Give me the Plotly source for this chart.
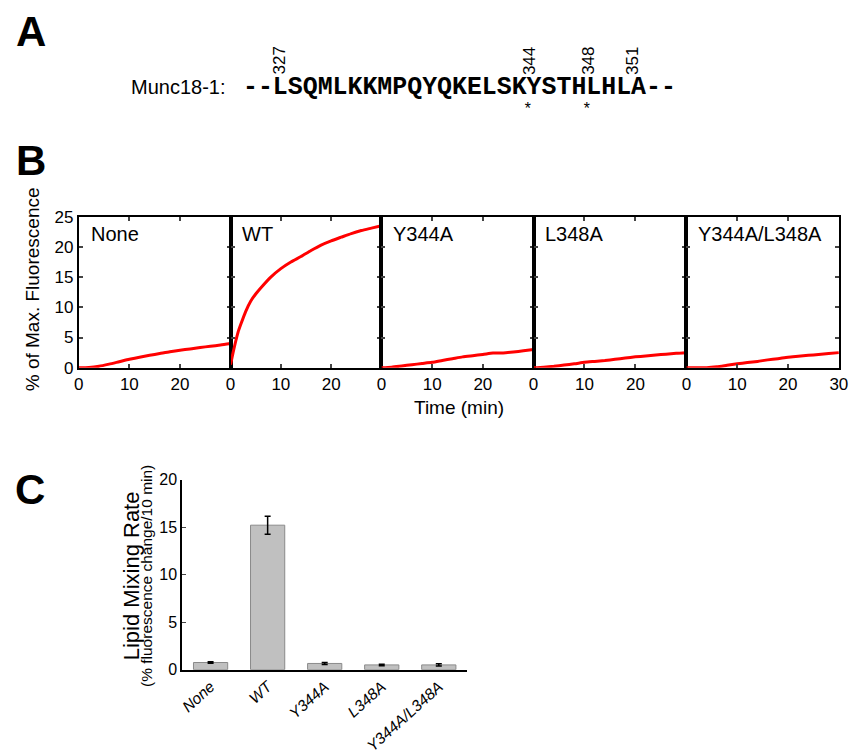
import plotly.graph_objects as go

W, H = 857, 755
FONT = "Liberation Sans, Arial, sans-serif"


def px(x):
    return x / W


def py(y):
    return 1 - y / H


# ---------------- data ----------------
# Panel A
sequence = "--LSQMLKKMPQYQKELSKYSTHLHLA--"
residue_labels = ["327", "344", "348", "351"]
residue_index = [2, 19, 23, 26]          # position of the labelled residue in `sequence`
star_index = [19, 23]

# Panel B: time course (% of max fluorescence)
panel_names = ["None", "WT", "Y344A", "L348A", "Y344A/L348A"]
t_none = [0, 2, 4, 6, 8, 10, 12, 14, 16, 18, 20, 22, 24, 26, 28, 30]
v_none = [0, 0.05, 0.25, 0.6, 1.0, 1.4, 1.75, 2.05, 2.35, 2.65, 2.9, 3.1, 3.35, 3.55, 3.75, 4.0]
t_wt = [0, 0.5, 1, 1.5, 2, 3, 4, 5, 6, 8, 10, 12, 14, 16, 18, 20, 22, 24, 26, 28, 30]
v_wt = [0.5, 2.5, 4.3, 5.9, 7.1, 9.3, 11.0, 12.2, 13.2, 15.0, 16.4, 17.5, 18.4, 19.4,
        20.3, 21.0, 21.6, 22.2, 22.7, 23.1, 23.5]
t_y344a = [0, 2, 4, 6, 8, 10, 12, 14, 16, 18, 20, 22, 24, 26, 28, 30]
v_y344a = [0, 0.1, 0.3, 0.5, 0.7, 0.9, 1.2, 1.5, 1.8, 2.0, 2.2, 2.45, 2.45, 2.6, 2.8, 3.0]
t_l348a = [0, 2, 4, 6, 8, 10, 12, 14, 16, 18, 20, 22, 24, 26, 28, 30]
v_l348a = [0, 0.1, 0.25, 0.45, 0.65, 0.9, 1.05, 1.2, 1.4, 1.6, 1.8, 1.95, 2.1, 2.25, 2.4, 2.5]
t_double = [0, 2, 4, 6, 8, 10, 12, 14, 16, 18, 20, 22, 24, 26, 28, 30]
v_double = [0, 0, 0, 0.15, 0.4, 0.65, 0.85, 1.05, 1.3, 1.5, 1.75, 1.9, 2.05, 2.2, 2.35, 2.5]
b_x_ticks = [0, 10, 20, 30]
b_y_ticks = [0, 5, 10, 15, 20, 25]

# Panel C: lipid mixing rate
c_categories = ["None", "WT", "Y344A", "L348A", "Y344A/L348A"]
c_rates = [0.75, 15.2, 0.65, 0.5, 0.5]
c_errors = [0.08, 0.95, 0.1, 0.08, 0.12]
c_y_ticks = [0, 5, 10, 15, 20]

# ---------------- figure ----------------
fig = go.Figure()

series_t = [t_none, t_wt, t_y344a, t_l348a, t_double]
series_v = [v_none, v_wt, v_y344a, v_l348a, v_double]
edges = [75, 229.3, 382.7, 537.3, 692.7, 847.7]
b_top, b_bot = 213, 368

layout = dict(
    width=W, height=H, autosize=False,
    margin=dict(l=0, r=0, t=0, b=0),
    paper_bgcolor="white", plot_bgcolor="white",
    showlegend=False,
    font=dict(family=FONT, color="black"),
)

annotations = []

for i in range(5):
    xa = "x" if i == 0 else f"x{i+1}"
    ya = "y" if i == 0 else f"y{i+1}"
    fig.add_trace(go.Scatter(
        x=series_t[i], y=series_v[i], mode="lines",
        line=dict(color="#ff0000", width=3, shape="spline", smoothing=0.6),
        xaxis=xa, yaxis=ya, hoverinfo="skip",
    ))
    xticks = b_x_ticks if i == 4 else b_x_ticks[:3]
    layout["xaxis" if i == 0 else f"xaxis{i+1}"] = dict(
        domain=[px(edges[i]), px(edges[i + 1])], anchor=ya,
        range=[0, 30], tickvals=xticks, ticks="inside", ticklen=4, tickwidth=1.5,
        showline=True, linewidth=2, linecolor="black", mirror="allticks",
        showgrid=False, zeroline=False, tickfont=dict(size=17, family=FONT),
        ticklabeloverflow="allow", fixedrange=True,
    )
    layout["yaxis" if i == 0 else f"yaxis{i+1}"] = dict(
        domain=[py(b_bot), py(b_top)], anchor=xa,
        range=[0, 25], tickvals=b_y_ticks, ticks="inside", ticklen=4, tickwidth=1.5,
        showline=True, linewidth=2, linecolor="black", mirror="allticks",
        showgrid=False, zeroline=False, showticklabels=(i == 0),
        tickfont=dict(size=17, family=FONT), fixedrange=True,
    )
    annotations.append(dict(
        text=panel_names[i], xref="paper", yref="paper",
        x=px(edges[i] + 10), y=py(231), xanchor="left", yanchor="middle",
        showarrow=False, font=dict(size=20, family=FONT),
    ))

# Panel C bars
fig.add_trace(go.Bar(
    x=c_categories, y=c_rates, width=0.6,
    marker=dict(color="#c0c0c0", line=dict(color="#8a8a8a", width=1)),
    error_y=dict(type="data", array=c_errors, color="black", thickness=1.5, width=3),
    xaxis="x6", yaxis="y6", hoverinfo="skip",
))
layout["xaxis6"] = dict(
    domain=[px(180), px(470)], anchor="y6",
    showline=True, linewidth=2, linecolor="black", ticks="",
    tickangle=-42, tickfont=dict(size=15.5, family=FONT, style="italic"),
    showgrid=False, zeroline=False, ticklabeloverflow="allow", fixedrange=True,
)
layout["yaxis6"] = dict(
    domain=[py(677.7), py(482.7)], anchor="x6",
    range=[0, 20], tickvals=c_y_ticks, ticks="inside", ticklen=4, tickwidth=1,
    showline=True, linewidth=1.5, linecolor="black",
    showgrid=False, zeroline=False, tickfont=dict(size=16, family=FONT),
    fixedrange=True,
)

# Panel letters
for letter, (lx, ly) in zip(["A", "B", "C"], [(26, 23), (26, 155), (25, 493)]):
    annotations.append(dict(
        text=f"<b>{letter}</b>", xref="paper", yref="paper", x=px(lx), y=py(ly),
        xanchor="center", yanchor="middle", showarrow=False,
        font=dict(size=42, family=FONT),
    ))

# Panel A text
seq_left = 240
char_w = 14.93
annotations.append(dict(
    text="Munc18-1:", xref="paper", yref="paper", x=px(227), y=py(80),
    xanchor="right", yanchor="middle", showarrow=False, font=dict(size=20, family=FONT),
))
annotations.append(dict(
    text=f"<b>{sequence}</b>", xref="paper", yref="paper", x=px(seq_left), y=py(80),
    xanchor="left", yanchor="middle", showarrow=False,
    font=dict(size=char_w / 0.6, family="Liberation Mono, Courier New, monospace"),
))
for lab, idx in zip(residue_labels, residue_index):
    annotations.append(dict(
        text=lab, xref="paper", yref="paper", x=px(seq_left + (idx + 0.5) * char_w + 2),
        y=py(53), xanchor="center", yanchor="middle", textangle=-90,
        showarrow=False, font=dict(size=17, family=FONT),
    ))
for idx in star_index:
    annotations.append(dict(
        text="*", xref="paper", yref="paper", x=px(seq_left + (idx + 0.5) * char_w + 1),
        y=py(104), xanchor="center", yanchor="middle",
        showarrow=False, font=dict(size=16, family="Liberation Mono, monospace"),
    ))

# Axis titles
annotations.append(dict(
    text="% of Max. Fluorescence", xref="paper", yref="paper", x=px(28), y=py(288),
    xanchor="center", yanchor="middle", textangle=-90, showarrow=False,
    font=dict(size=19, family=FONT),
))
annotations.append(dict(
    text="Time (min)", xref="paper", yref="paper", x=px(462), y=py(409),
    xanchor="center", yanchor="middle", showarrow=False, font=dict(size=19, family=FONT),
))
annotations.append(dict(
    text="Lipid Mixing Rate", xref="paper", yref="paper", x=px(128), y=py(581),
    xanchor="center", yanchor="middle", textangle=-90, showarrow=False,
    font=dict(size=22, family=FONT),
))
annotations.append(dict(
    text="(% fluorescence change/10 min)", xref="paper", yref="paper", x=px(144), y=py(582),
    xanchor="center", yanchor="middle", textangle=-90, showarrow=False,
    font=dict(size=15.5, family=FONT),
))

layout["annotations"] = annotations
fig.update_layout(**layout)
fig.write_html(
    "out.html",
    config={"displayModeBar": False},
    post_script="document.body.style.margin='0';document.body.style.overflow='hidden';",
)
